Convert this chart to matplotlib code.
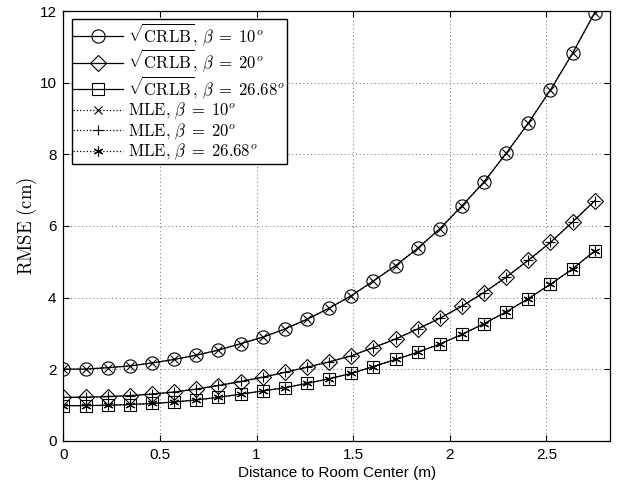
import matplotlib
matplotlib.use("Agg")
import matplotlib.pyplot as plt

# ---- data ----
distance = [0.000, 0.115, 0.229, 0.344, 0.458, 0.573, 0.688, 0.802, 0.917, 1.031,
            1.146, 1.260, 1.375, 1.490, 1.604, 1.719, 1.833, 1.948, 2.063, 2.177,
            2.292, 2.406, 2.521, 2.635, 2.750]

crlb_10 = [2.00, 2.00, 2.04, 2.09, 2.17, 2.27, 2.39, 2.53, 2.71, 2.89,
           3.12, 3.39, 3.70, 4.05, 4.46, 4.89, 5.37, 5.92, 6.56, 7.23,
           8.03, 8.87, 9.80, 10.82, 11.96]
crlb_20 = [1.21, 1.215, 1.23, 1.26, 1.30, 1.36, 1.44, 1.54, 1.65, 1.77,
           1.91, 2.05, 2.20, 2.37, 2.60, 2.84, 3.12, 3.42, 3.76, 4.14,
           4.57, 5.04, 5.54, 6.11, 6.70]
crlb_27 = [0.98, 0.98, 0.99, 1.01, 1.04, 1.08, 1.14, 1.21, 1.30, 1.39,
           1.48, 1.60, 1.73, 1.88, 2.07, 2.27, 2.47, 2.70, 2.97, 3.27,
           3.60, 3.97, 4.37, 4.80, 5.30]

mle_10 = [2.00, 2.00, 2.04, 2.09, 2.17, 2.27, 2.39, 2.53, 2.71, 2.89,
          3.12, 3.39, 3.70, 4.05, 4.46, 4.89, 5.37, 5.92, 6.56, 7.23,
          8.03, 8.87, 9.80, 10.82, 11.96]
mle_20 = [1.21, 1.22, 1.24, 1.26, 1.31, 1.36, 1.45, 1.55, 1.66, 1.78,
          1.91, 2.06, 2.21, 2.37, 2.60, 2.84, 3.12, 3.42, 3.76, 4.14,
          4.57, 5.04, 5.54, 6.11, 6.70]
mle_27 = [0.98, 0.98, 0.99, 1.01, 1.04, 1.08, 1.14, 1.21, 1.30, 1.39,
          1.48, 1.60, 1.73, 1.88, 2.07, 2.27, 2.47, 2.70, 2.97, 3.27,
          3.60, 3.97, 4.37, 4.80, 5.30]

labels_crlb = [r'$\sqrt{\mathrm{CRLB}},\,\beta\;=\;10^o$',
               r'$\sqrt{\mathrm{CRLB}},\,\beta\;=\;20^o$',
               r'$\sqrt{\mathrm{CRLB}},\,\beta\;=\;26.68^o$']
labels_mle = [r'$\mathrm{MLE},\,\beta\;=\;10^o$',
              r'$\mathrm{MLE},\,\beta\;=\;20^o$',
              r'$\mathrm{MLE},\,\beta\;=\;26.68^o$']

x_ticks = [0, 0.5, 1, 1.5, 2, 2.5]
y_ticks = [0, 2, 4, 6, 8, 10, 12]

plt.rcParams['mathtext.fontset'] = 'cm'
plt.rcParams['font.family'] = ['Liberation Sans', 'DejaVu Sans']

fig = plt.figure(figsize=(6.21, 4.91), dpi=100)
ax = fig.add_axes([0.102, 0.1024, 0.880, 0.875])

lw = 0.9
mew = 0.8
ax.plot(distance, crlb_10, '-', color='black', lw=lw, marker='o', ms=9.5,
        mfc='none', mec='black', mew=mew, label=labels_crlb[0])
ax.plot(distance, crlb_20, '-', color='black', lw=lw, marker='D', ms=8.3,
        mfc='none', mec='black', mew=mew, label=labels_crlb[1])
ax.plot(distance, crlb_27, '-', color='black', lw=lw, marker='s', ms=8.3,
        mfc='none', mec='black', mew=mew, label=labels_crlb[2])
ax.plot(distance, mle_10, ':', color='black', lw=lw, marker='x', ms=6,
        mec='black', mew=mew, label=labels_mle[0])
ax.plot(distance, mle_20, ':', color='black', lw=lw, marker='+', ms=7.5,
        mec='black', mew=mew, label=labels_mle[1])
ax.plot(distance, mle_27, ':', color='black', lw=lw, marker=(6, 2, 0), ms=7,
        mec='black', mew=mew, label=labels_mle[2])

ax.set_xlim(0, 2.828)
ax.set_ylim(0, 12)
ax.set_xticks(x_ticks)
ax.set_xticklabels(['0', '0.5', '1', '1.5', '2', '2.5'])
ax.set_yticks(y_ticks)
ax.tick_params(direction='in', length=4, width=0.8, top=True, right=True,
               labelsize=11, pad=5)
ax.grid(True, color='black', linestyle=(0, (1, 3.5)), linewidth=0.6, alpha=0.8)
for s in ax.spines.values():
    s.set_linewidth(0.9)

ax.set_xlabel('Distance to Room Center (m)', fontsize=11, labelpad=3)
ax.set_ylabel(r'$\mathrm{RMSE\ (cm)}$', fontsize=13.5, labelpad=0)

leg = ax.legend(loc='upper left', fontsize=12, frameon=True, fancybox=False,
                edgecolor='black', framealpha=1, handlelength=3.0,
                labelspacing=0.0, borderpad=0.1, handletextpad=0.3,
                borderaxespad=0.5)
leg.get_frame().set_linewidth(1.0)

fig.savefig('out.png', dpi=100)
